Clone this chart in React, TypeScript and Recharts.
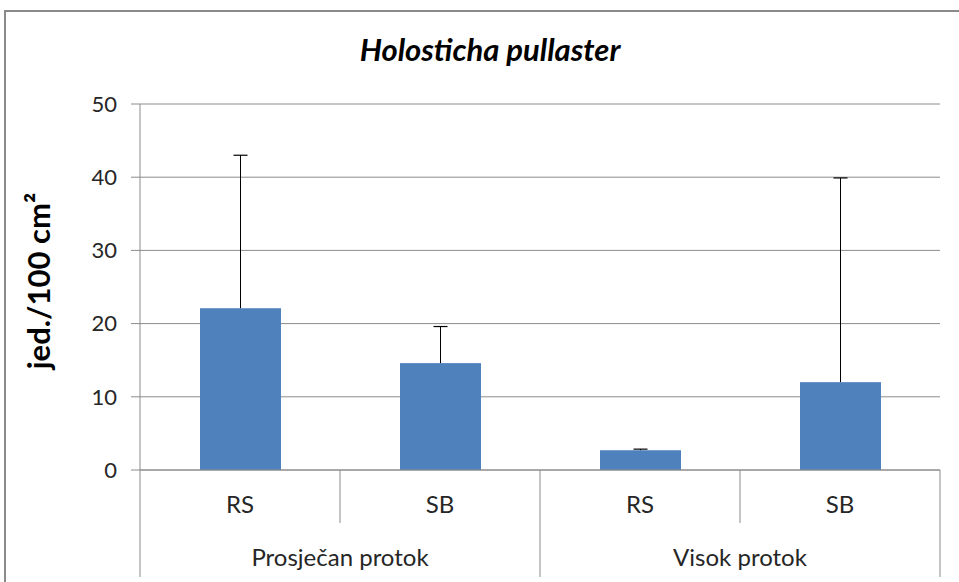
import { BarChart, Bar, XAxis, YAxis, CartesianGrid } from 'recharts'

// Values
const SITES = ['RS', 'SB', 'RS', 'SB']
const FLOWS = ['Prosječan protok', 'Prosječan protok', 'Visok protok', 'Visok protok']
const MEANS = [22.1, 14.6, 2.7, 12.0]
const SD_UP = [20.9, 5.0, 0.15, 27.9]
const Y_TICKS = [0, 10, 20, 30, 40, 50]

const data = SITES.map((site, i) => ({
  key: `${FLOWS[i]}-${site}-${i}`,
  site,
  flow: FLOWS[i],
  value: MEANS[i],
  err: SD_UP[i],
}))

const FONT = 'Lato, "Noto Sans", sans-serif'
const GRID = '#8c8c8c'
const BAR = '#4f81bd'
const TEXT = '#262626'

// bar plus a plus-only error whisker (like Excel's "plus" direction)
function BarWithError(props: any) {
  const { x, y, width, height, payload } = props
  const perUnit = payload.value ? height / payload.value : 0
  const top = y - payload.err * perUnit
  const cx = x + width / 2
  return (
    <g>
      <rect x={x} y={y} width={width} height={height} fill={BAR} />
      <line x1={cx} x2={cx} y1={y} y2={top} stroke="#000" strokeWidth={1} />
      <line x1={cx - 7} x2={cx + 7} y1={top} y2={top} stroke="#000" strokeWidth={1.2} />
    </g>
  )
}

function SiteTick(props: any) {
  const { x, y, width, visibleTicksCount, index } = props
  const bw = width / visibleTicksCount
  const left = x - bw / 2
  return (
    <g>
      <line x1={left} x2={left} y1={y} y2={y + 53} stroke={GRID} />
      {index === visibleTicksCount - 1 && (
        <line x1={x + bw / 2} x2={x + bw / 2} y1={y} y2={y + 53} stroke={GRID} />
      )}
      <text x={x} y={y + 43} textAnchor="middle" fontSize={24} fill={TEXT} fontFamily={FONT}>
        {SITES[index]}
      </text>
    </g>
  )
}

function FlowTick(props: any) {
  const { x, y, width, visibleTicksCount, index } = props
  const bw = width / visibleTicksCount
  if (index % 2 !== 0) return <g />
  const left = x - bw / 2
  return (
    <g>
      <line x1={left} x2={left} y1={y} y2={y + 54} stroke={GRID} />
      {index + 2 >= visibleTicksCount && (
        <line x1={left + bw * 2} x2={left + bw * 2} y1={y} y2={y + 54} stroke={GRID} />
      )}
      <text x={x + bw / 2} y={y + 43} textAnchor="middle" fontSize={24} fill={TEXT} fontFamily={FONT}>
        {FLOWS[index]}
      </text>
    </g>
  )
}

export default function App() {
  return (
    <div style={{ position: 'absolute', left: 0, top: 0, width: 959, height: 582, background: '#fff' }}>
      <div
        style={{
          position: 'absolute',
          left: 4,
          top: 10,
          width: 980,
          height: 600,
          border: '2px solid #8a8a8a',
          boxSizing: 'border-box',
        }}
      />
      <div
        style={{
          position: 'absolute',
          left: 0,
          top: 30,
          width: 980,
          textAlign: 'center',
          fontFamily: FONT,
          fontWeight: 700,
          fontStyle: 'italic',
          fontSize: 31,
          color: '#000',
        }}
      >
        Holosticha pullaster
      </div>
      <BarChart
        width={959}
        height={582}
        data={data}
        margin={{ top: 104, right: 19, bottom: 4, left: 0 }}
        style={{ position: 'absolute', left: 0, top: 0 }}
      >
        <CartesianGrid vertical={false} stroke={GRID} />
        {/* inner row: site names */}
        <XAxis
          dataKey="key"
          xAxisId={0}
          height={53}
          tickSize={0}
          tickMargin={0}
          axisLine={{ stroke: GRID }}
          tickLine={false}
          interval={0}
          tick={<SiteTick />}
        />
        {/* outer row: flow groups */}
        <XAxis
          dataKey="key"
          xAxisId={1}
          height={55}
          tickSize={0}
          tickMargin={0}
          axisLine={false}
          tickLine={false}
          interval={0}
          tick={<FlowTick />}
        />
        <YAxis
          width={140}
          domain={[0, 50]}
          ticks={Y_TICKS}
          tickSize={9}
          tickMargin={14}
          axisLine={{ stroke: GRID }}
          tickLine={{ stroke: GRID }}
          tick={{ fontSize: 22, fill: TEXT, fontFamily: FONT }}
          label={{
            value: 'jed./100 cm²',
            angle: -90,
            position: 'insideLeft',
            dx: 34,
            dy: -6,
            style: { fontSize: 31, fontWeight: 700, fill: '#000', fontFamily: FONT, textAnchor: 'middle' },
          }}
        />
        <Bar
          dataKey="value"
          xAxisId={0}
          barSize={81}
          fill={BAR}
          shape={<BarWithError />}
          isAnimationActive={false}
        />
      </BarChart>
    </div>
  )
}
